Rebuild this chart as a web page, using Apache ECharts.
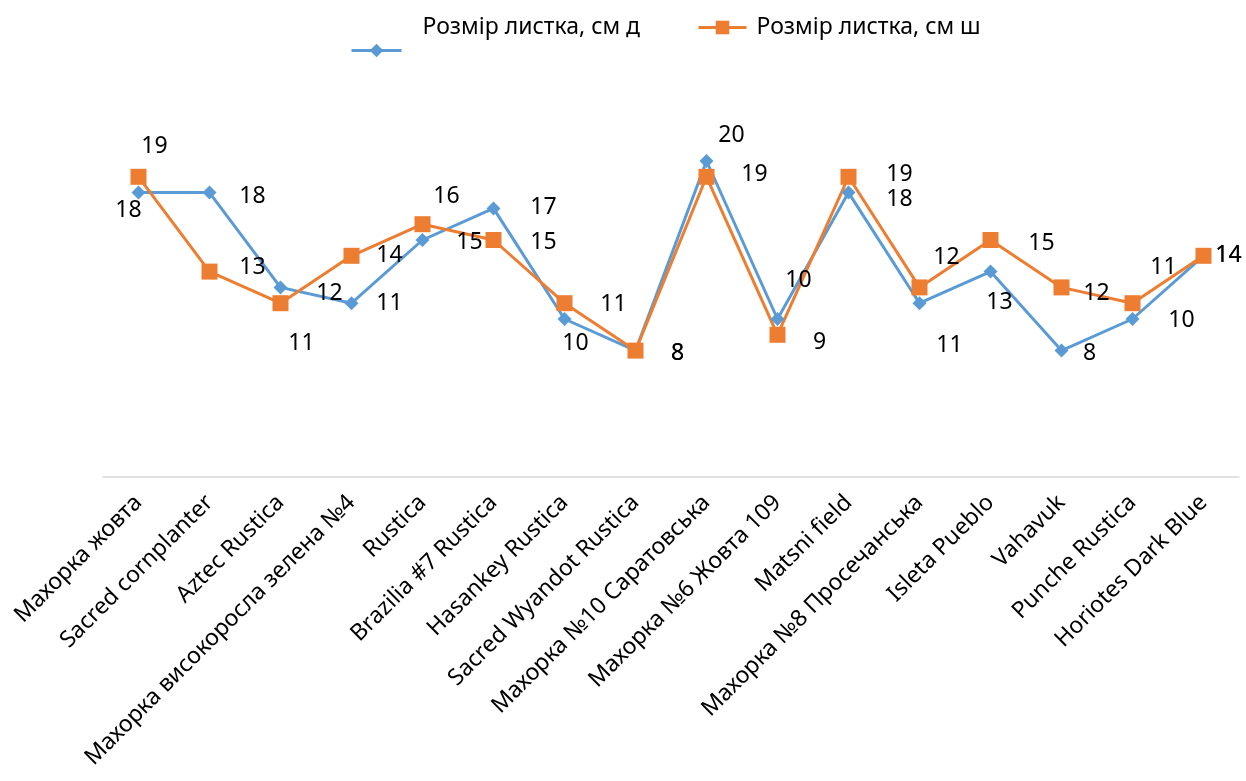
<!DOCTYPE html>
<html><head><meta charset="utf-8">
<script src="https://cdn.jsdelivr.net/npm/echarts@6/dist/echarts.min.js"></script>
<style>html,body{margin:0;padding:0;background:#fff}#c{width:1246px;height:781px}</style>
</head><body><div id="c"></div>
<script>
const categories = ['Махорка жовта','Sacred cornplanter','Aztec Rustica','Махорка високоросла зелена №4','Rustica','Brazilia #7 Rustica','Hasankey Rustica','Sacred Wyandot Rustica','Махорка №10 Саратовська','Махорка №6 Жовта 109','Matsni field','Махорка №8 Просечанська','Isleta Pueblo','Vahavuk','Punche Rustica','Horiotes Dark Blue'];
const seriesNames = ['Розмір листка, см д','Розмір листка, см ш'];
const lengthValues = [18,18,12,11,15,17,10,8,20,10,18,11,13,8,10,14];
const widthValues = [19,13,11,14,16,15,11,8,19,9,19,12,15,12,11,14];
// label placement (style only), offsets from the point in px
const lengthLabelOffsets = [[-10,18],[43,4],[49,6],[38,0],[47,2],[50,-1],[11,24],[42,3],[25,-26],[21,-39],[51,7],[30,42],[9,31],[28,3],[49,1],[25,0]];
const widthLabelOffsets = [[16,-30],[43,-4],[21,40],[38,0],[24,-28],[50,2],[49,1],[42,3],[48,-2],[42,8],[51,-2],[27,-30],[51,3],[35,6],[31,-36],[25,0]];

const FONT = 'Noto Sans';
function withLabels(vals, offs){
  return vals.map((v,i)=>({value:v,label:{offset:offs[i]}}));
}
const chart = echarts.init(document.getElementById('c'), null, {renderer:'canvas'});
chart.setOption({
  animation:false,
  textStyle:{fontFamily:FONT},
  legend:[
    {data:[seriesNames[0]], left:350, top:16, padding:0, itemWidth:50, itemHeight:17,
     lineStyle:{width:3},
     formatter: n => '{t|' + n + '}\n{e| }\n{e| }',
     textStyle:{fontFamily:FONT,fontSize:23,color:'#000',padding:[0,0,0,16],
       rich:{t:{fontFamily:FONT,fontSize:23,lineHeight:23,color:'#000'},e:{fontSize:23,lineHeight:23}}}},
    {data:[seriesNames[1]], left:697, top:16, padding:0, itemWidth:48, itemHeight:17,
     lineStyle:{width:3},
     textStyle:{fontFamily:FONT,fontSize:23,color:'#000',padding:[0,0,0,5]}}
  ],
  grid:{left:103,right:7,top:82,bottom:304,containLabel:false},
  xAxis:{type:'category',data:categories,boundaryGap:true,
    axisLine:{lineStyle:{color:'#d9d9d9',width:1.5}},axisTick:{show:false},
    axisLabel:{interval:0,rotate:45,fontSize:23,color:'#000',fontFamily:FONT,margin:22}},
  yAxis:{type:'value',min:0,max:25,show:false,splitLine:{show:false}},
  series:[
    {name:seriesNames[0],type:'line',data:withLabels(lengthValues,lengthLabelOffsets),
     symbol:'diamond',symbolSize:14,itemStyle:{color:'#5B9BD5'},lineStyle:{width:3,color:'#5B9BD5'},
     label:{show:true,position:'inside',fontSize:23,color:'#000',fontFamily:FONT,align:'center',verticalAlign:'middle'}},
    {name:seriesNames[1],type:'line',data:withLabels(widthValues,widthLabelOffsets),
     symbol:'rect',symbolSize:16,itemStyle:{color:'#ED7D31'},lineStyle:{width:3,color:'#ED7D31'},
     label:{show:true,position:'inside',fontSize:23,color:'#000',fontFamily:FONT,align:'center',verticalAlign:'middle'}}
  ]
});
</script></body></html>
